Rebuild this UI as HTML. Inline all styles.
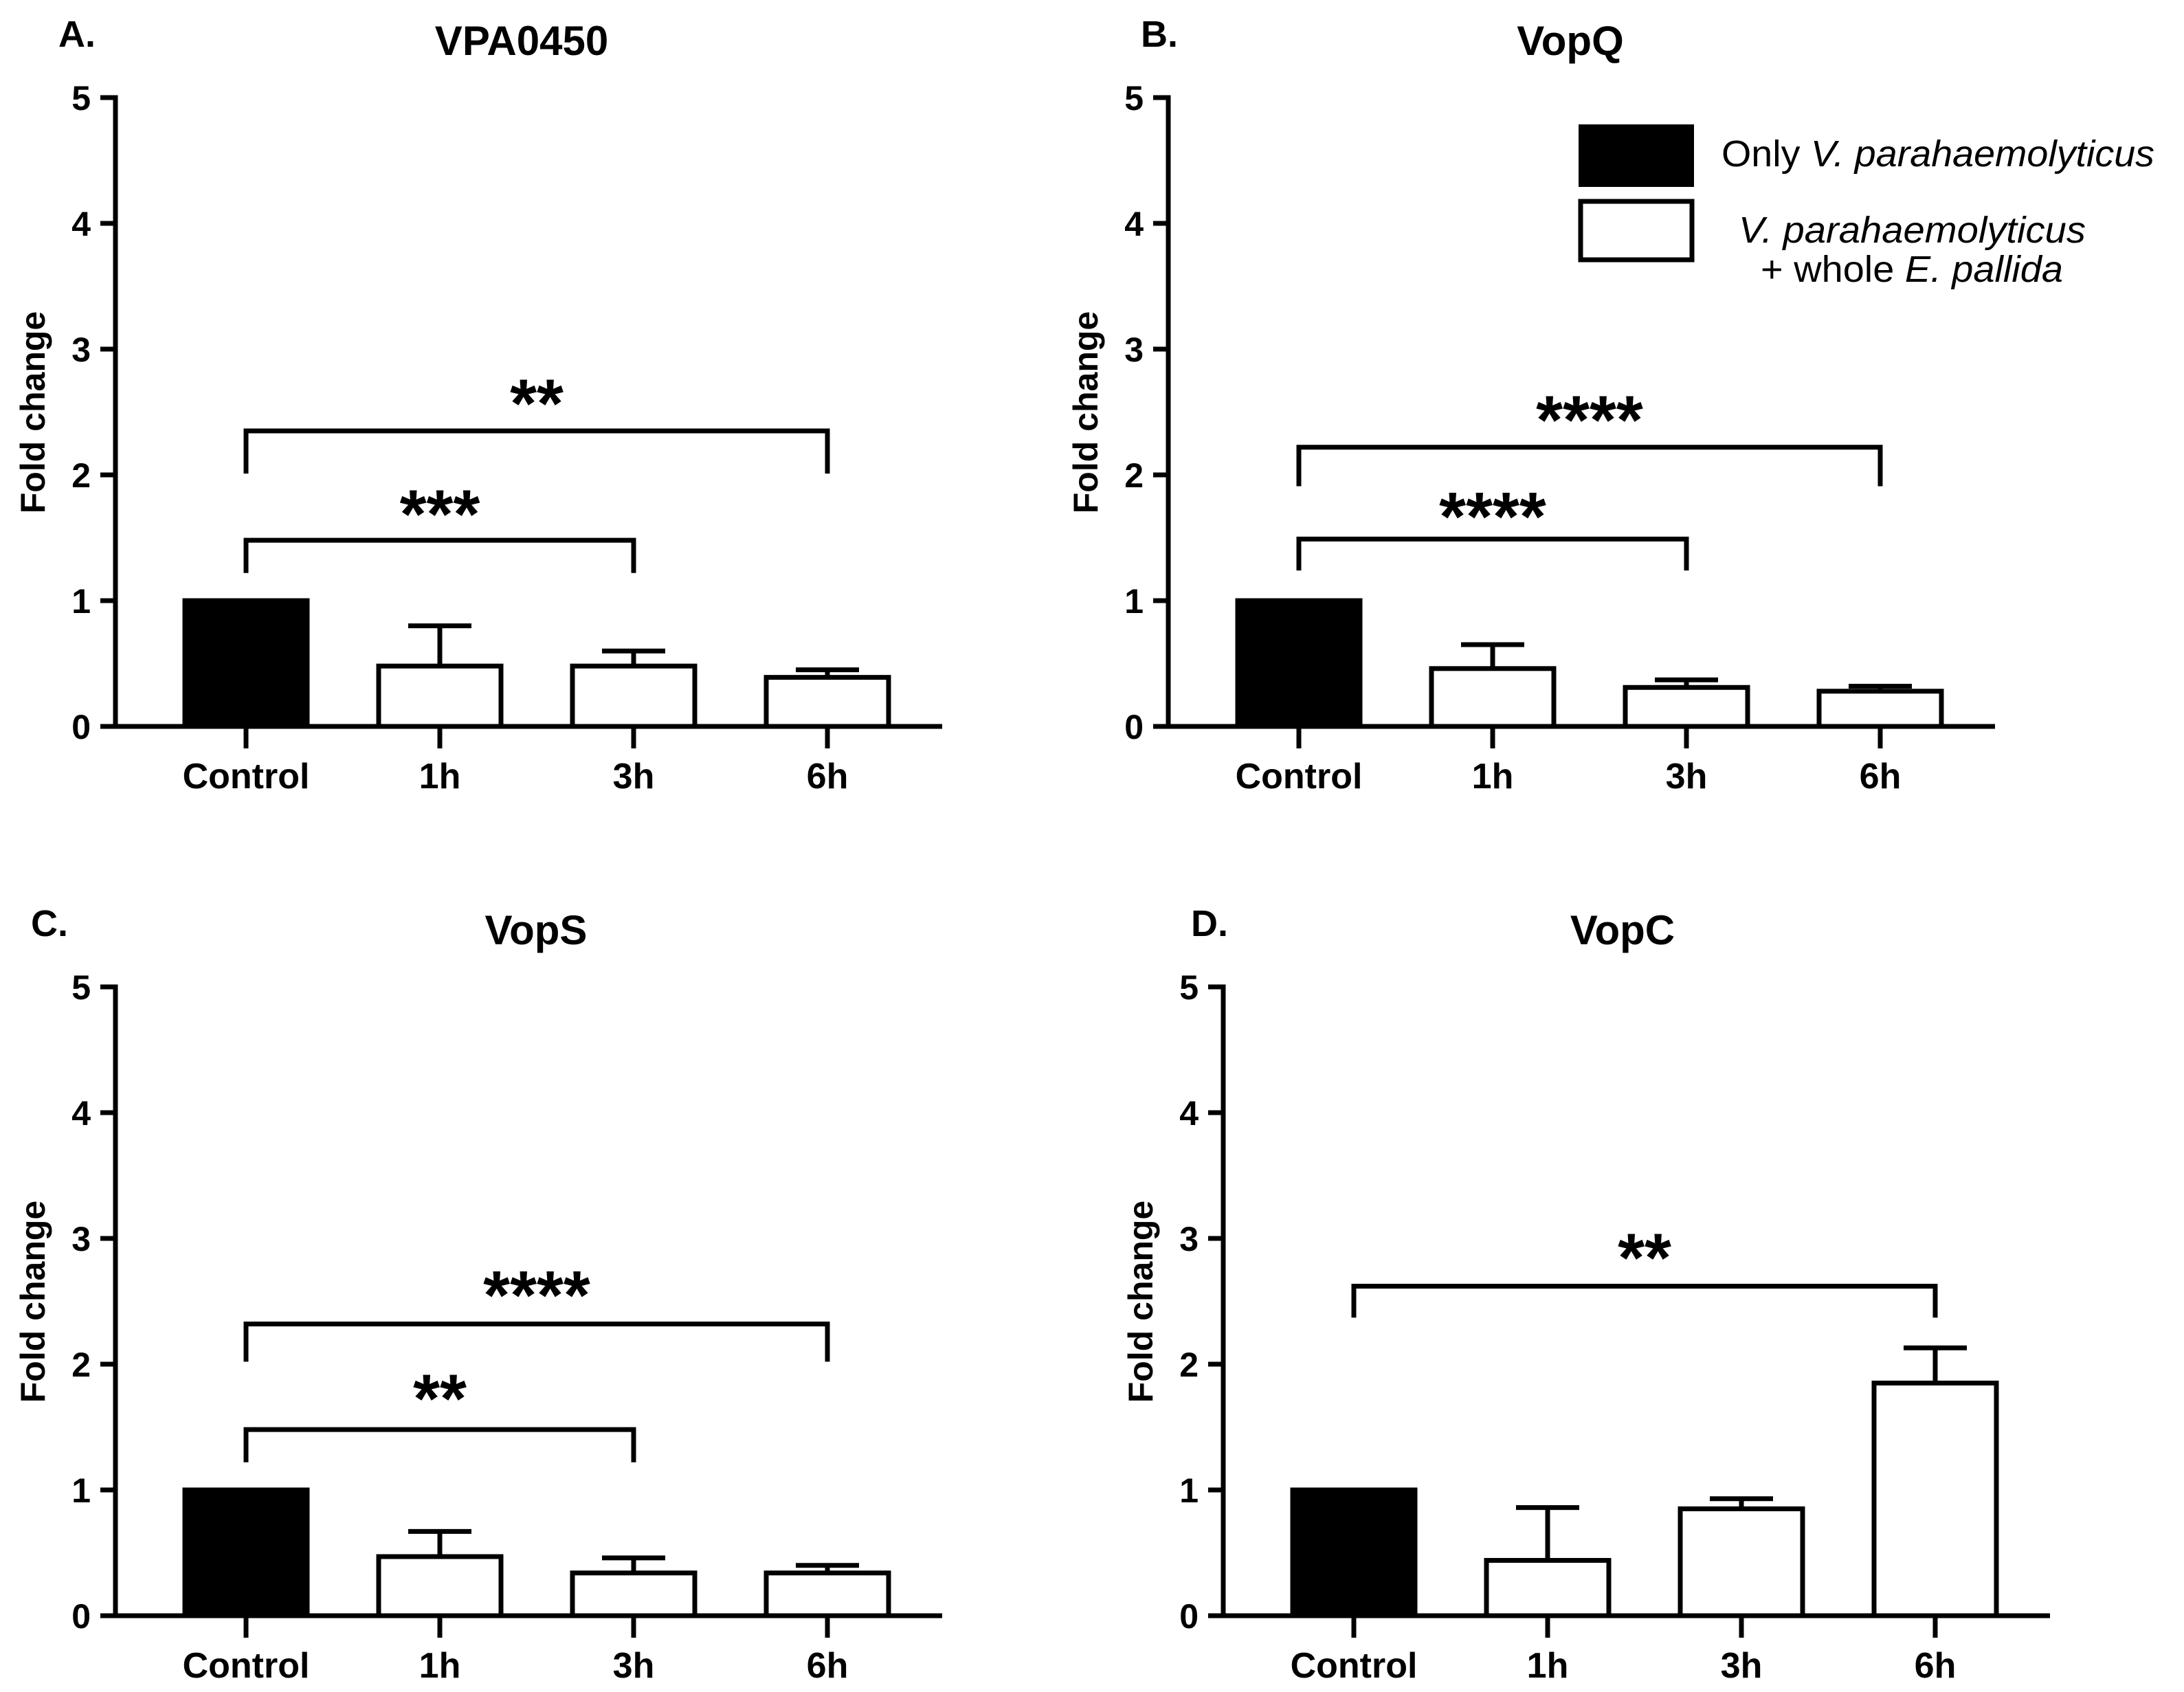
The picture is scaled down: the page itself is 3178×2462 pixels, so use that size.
<!DOCTYPE html>
<html><head><meta charset="utf-8"><style>
html,body{margin:0;padding:0;background:#fff;}
svg{display:block;font-family:"Liberation Sans",Arial,sans-serif;}
</style></head><body>
<svg id="fig" width="3178" height="2462" viewBox="0 0 3178 2462" xmlns="http://www.w3.org/2000/svg">
<rect x="0" y="0" width="3178" height="2462" fill="#fff"/>
<g>
  <rect x="2297" y="181" width="168" height="91" fill="#000"/>
  <text x="2505" y="242" font-size="54" textLength="630" lengthAdjust="spacingAndGlyphs">Only <tspan font-style="italic">V. parahaemolyticus</tspan></text>
  <rect x="2300" y="293" width="162" height="85" fill="#fff" stroke="#000" stroke-width="7"/>
  <text x="2530" y="353" font-size="54" font-style="italic" textLength="505" lengthAdjust="spacingAndGlyphs">V. parahaemolyticus</text>
  <text x="2562" y="410" font-size="54" textLength="440" lengthAdjust="spacingAndGlyphs">+ whole <tspan font-style="italic">E. pallida</tspan></text>
</g>
</svg>
<script>
const categories = ["Control", "1h", "3h", "6h"];
const yTicks = [0, 1, 2, 3, 4, 5];
const panelTitles = ["VPA0450", "VopQ", "VopS", "VopC"];
const panelLetters = ["A.", "B.", "C.", "D."];
const meansA = [1.0, 0.48, 0.48, 0.39];
const errA = [1.0, 0.80, 0.60, 0.45];
const meansB = [1.0, 0.46, 0.31, 0.28];
const errB = [1.0, 0.65, 0.37, 0.32];
const meansC = [1.0, 0.47, 0.34, 0.34];
const errC = [1.0, 0.67, 0.46, 0.40];
const meansD = [1.0, 0.44, 0.85, 1.85];
const errD = [1.0, 0.86, 0.93, 2.13];
// significance brackets: [fromIndex, toIndex, level, dropLevel, label, labelLevel]
const sigA = [[0, 3, 2.35, 2.01, "**", 2.62], [0, 2, 1.48, 1.22, "***", 1.74]];
const sigB = [[0, 3, 2.22, 1.91, "****", 2.49], [0, 2, 1.49, 1.24, "****", 1.72]];
const sigC = [[0, 3, 2.32, 2.02, "****", 2.60], [0, 2, 1.48, 1.22, "**", 1.78]];
const sigD = [[0, 3, 2.62, 2.37, "**", 2.90]];

const NS = "http://www.w3.org/2000/svg";
const svg = document.getElementById("fig");
function mk(tag, attrs, parent) {
  const e = document.createElementNS(NS, tag);
  for (const k in attrs) e.setAttribute(k, attrs[k]);
  parent.appendChild(e);
  return e;
}
const layouts = [
  {ax: 168, y0: 1057, lx: 85, title: 759},
  {ax: 1700, y0: 1057, lx: 1660, title: 2285},
  {ax: 168, y0: 2351, lx: 45, title: 780},
  {ax: 1780, y0: 2351, lx: 1733, title: 2361}
];
const allMeans = [meansA, meansB, meansC, meansD];
const allErr = [errA, errB, errC, errD];
const allSig = [sigA, sigB, sigC, sigD];
const unit = 183;
const SW = 7;

layouts.forEach((L, p) => {
  const g = mk("g", {}, svg);
  
  
  const yS = v => L.y0 - v * unit;
  const xS = i => L.ax + 190 + 282 * i;
  const bw = 185;

  const lab = mk("text", {x: L.lx, y: L.y0 - 989, "font-size": 54, "font-weight": "bold"}, g);
  lab.textContent = panelLetters[p];
  
  
  const tt = mk("text", {x: L.title, y: L.y0 - 977, "font-size": 60, "font-weight": "bold", "text-anchor": "middle"}, g);
  tt.textContent = panelTitles[p];
  
  

  allMeans[p].forEach((v, i) => {
    const cx = xS(i);
    const top = yS(v);
    const ey = yS(allErr[p][i]);
    if (i > 0) {
      const el = mk("line", {x1: cx, x2: cx, y1: top, y2: ey, stroke: "#000", "stroke-width": SW}, g);
      
      
      const cap = mk("line", {x1: cx - 46, x2: cx + 46, y1: ey, y2: ey, stroke: "#000", "stroke-width": SW}, g);
      
      
    }
    let r;
    if (i === 0) {
      r = mk("rect", {x: cx - bw / 2, y: top - SW / 2, width: bw, height: L.y0 - top + SW / 2, fill: "#000"}, g);
    } else {
      r = mk("rect", {x: cx - bw / 2 + SW / 2, y: top, width: bw - SW, height: L.y0 - top, fill: "#fff", stroke: "#000", "stroke-width": SW}, g);
    }
    
    
  });

  const ya = mk("line", {x1: L.ax, x2: L.ax, y1: yS(5) - SW / 2, y2: L.y0, stroke: "#000", "stroke-width": SW}, g);
  
  
  const xa = mk("line", {x1: L.ax - 22, x2: L.ax + 1203, y1: L.y0, y2: L.y0, stroke: "#000", "stroke-width": SW}, g);
  
  
  yTicks.forEach(t => {
    const tk = mk("line", {x1: L.ax - 22, x2: L.ax, y1: yS(t), y2: yS(t), stroke: "#000", "stroke-width": SW}, g);
    
    
    const tl = mk("text", {x: L.ax - 36, y: yS(t) + 18, "font-size": 50, "font-weight": "bold", "text-anchor": "end"}, g);
    tl.textContent = String(t);
    
    
  });
  categories.forEach((c, i) => {
    const tk = mk("line", {x1: xS(i), x2: xS(i), y1: L.y0, y2: L.y0 + 32, stroke: "#000", "stroke-width": SW}, g);
    
    
    const tl = mk("text", {x: xS(i), y: L.y0 + 90, "font-size": 52, "font-weight": "bold", "text-anchor": "middle"}, g);
    tl.textContent = c;
    
    
  });
  const yt = mk("text", {x: 0, y: 0, "font-size": 50, "font-weight": "bold", "text-anchor": "middle",
    transform: `translate(${L.ax - 103},${L.y0 - 457}) rotate(-90)`}, g);
  yt.textContent = "Fold change";
  
  

  allSig[p].forEach(s => {
    const x1 = xS(s[0]), x2 = xS(s[1]);
    const pl = mk("polyline", {points: `${x1},${yS(s[3])} ${x1},${yS(s[2])} ${x2},${yS(s[2])} ${x2},${yS(s[3])}`,
      fill: "none", stroke: "#000", "stroke-width": SW}, g);
    
    
    const st = mk("text", {x: (x1 + x2) / 2, y: yS(s[5]) + 44, "font-size": 100, "font-weight": "bold", "text-anchor": "middle"}, g);
    st.textContent = s[4];
    
    
  });
});
</script>
</body></html>
